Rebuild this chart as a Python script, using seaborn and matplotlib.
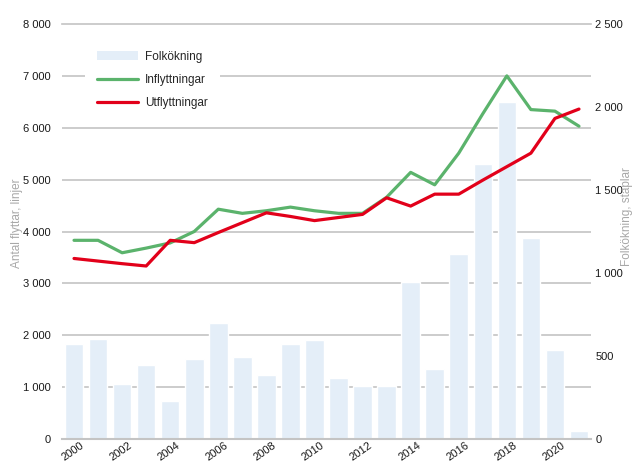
import pandas as pd
import matplotlib
matplotlib.use("Agg")
import matplotlib.pyplot as plt
from matplotlib.ticker import MultipleLocator, FuncFormatter
from matplotlib.patches import Patch
from matplotlib.lines import Line2D
from matplotlib.transforms import ScaledTranslation
import seaborn as sns

years = list(range(2000, 2022))
folkokning = [572, 602, 331, 446, 229, 482, 699, 494, 386, 572, 596, 367,
              319, 319, 946, 422, 1114, 1657, 2030, 1211, 536, 48]
inflyttningar = [3830, 3830, 3590, 3680, 3780, 4000, 4430, 4350, 4400, 4470, 4400, 4350,
                 4350, 4660, 5140, 4900, 5510, 6270, 7000, 6350, 6320, 6030]
utflyttningar = [3480, 3430, 3380, 3335, 3830, 3785, 3980, 4170, 4360, 4290, 4210, 4270,
                 4330, 4650, 4490, 4720, 4720, 4990, 5250, 5510, 6180, 6360]
xtick_years = list(range(2000, 2021, 2))

BAR_COLOR = "#e4eef8"
GREEN = "#5bb36c"
RED = "#e2001a"
GRID = "#c4c4c4"
LABEL_GREY = "#a8a8a8"

sns.set_style("white")
plt.rcParams["font.family"] = ["Liberation Sans Narrow", "Liberation Sans", "DejaVu Sans"]
plt.rcParams["font.size"] = 8.5

lines_df = pd.DataFrame({
    "year": years * 2,
    "value": inflyttningar + utflyttningar,
    "serie": ["Inflyttningar"] * len(years) + ["Utflyttningar"] * len(years),
})

fig, ax = plt.subplots(figsize=(6.43, 4.63), dpi=100)
fig.subplots_adjust(left=62 / 643, right=591 / 643, top=1 - 24 / 463, bottom=1 - 439 / 463)
ax2 = ax.twinx()

# bars on the twin (right scale), lines on top
sns.barplot(x=years, y=folkokning, native_scale=True, color=BAR_COLOR,
            saturation=1, width=0.77, ax=ax2)
sns.lineplot(data=lines_df, x="year", y="value", hue="serie",
             palette={"Inflyttningar": GREEN, "Utflyttningar": RED},
             linewidth=2.3, legend=False, ax=ax)

ax.set_zorder(ax2.get_zorder() + 1)
ax.patch.set_visible(False)

fmt = FuncFormatter(lambda v, p: f"{v:,.0f}".replace(",", " "))

ax.set_ylim(0, 8000)
ax.yaxis.set_major_locator(MultipleLocator(1000))
ax.yaxis.set_major_formatter(fmt)
ax.grid(False)

ax2.set_ylim(0, 2500)
ax2.yaxis.set_major_locator(MultipleLocator(500))
ax2.yaxis.set_minor_locator(MultipleLocator(312.5))
ax2.yaxis.set_major_formatter(fmt)
ax2.set_axisbelow(True)
ax2.grid(which="major", visible=False)
ax2.grid(which="minor", axis="y", color=GRID, linewidth=1.2)

ax.set_xlim(1999.5, 2021.5)
ax.set_xticks(xtick_years)
ax.set_xticklabels([str(y) for y in xtick_years])
ax.set_xlabel("")
ax2.set_xlabel("")

ax.tick_params(axis="y", length=0, pad=8, colors="#1a1a1a", labelsize=8)
ax.tick_params(axis="x", length=0, pad=1, colors="#1a1a1a", labelsize=8)
ax2.tick_params(axis="y", which="both", length=0, pad=3, colors="#1a1a1a", labelsize=8)

for lbl in ax.get_xticklabels():
    lbl.set_rotation(35)
    lbl.set_ha("right")
    lbl.set_va("top")
    lbl.set_rotation_mode("anchor")
    lbl.set_transform(lbl.get_transform() + ScaledTranslation(6 / 100, 0, fig.dpi_scale_trans))

for a in (ax, ax2):
    for side in ("left", "right"):
        a.spines[side].set_visible(False)
ax2.spines["top"].set_visible(False)
ax2.spines["bottom"].set_visible(False)
ax.spines["top"].set_color(GRID)
ax.spines["top"].set_linewidth(1.2)
ax.spines["bottom"].set_color(GRID)
ax.spines["bottom"].set_linewidth(1.5)

ax.set_ylabel("Antal flyttar, linjer", color=LABEL_GREY)
ax.yaxis.set_label_coords(-0.073, 0.52)
ax2.set_ylabel("Folkökning, staplar", color=LABEL_GREY)
ax2.yaxis.set_label_coords(1.057, 0.535)

handles = [
    Patch(facecolor=BAR_COLOR, edgecolor="none"),
    Line2D([], [], color=GREEN, linewidth=2.3),
    Line2D([], [], color=RED, linewidth=2.3),
]
ax.legend(handles, ["Folkökning", "Inflyttningar", "Utflyttningar"],
          loc="upper left", bbox_to_anchor=(0.043, 0.964), borderaxespad=0,
          frameon=True, facecolor="white", edgecolor="none", framealpha=1,
          fancybox=False, borderpad=1.0, handlelength=3.5, handleheight=0.8,
          handletextpad=0.6, labelspacing=0.95)

fig.savefig("out.png", dpi=100, facecolor="white")
